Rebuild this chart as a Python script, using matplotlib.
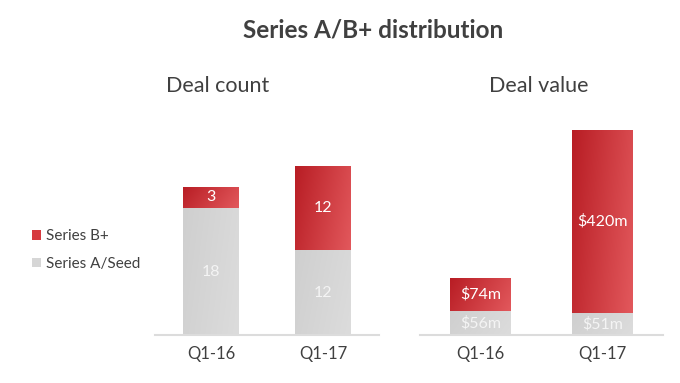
import matplotlib
matplotlib.use("Agg")
import matplotlib.pyplot as plt
import numpy as np
from matplotlib.colors import LinearSegmentedColormap
from matplotlib.patches import Patch

plt.rcParams['font.family'] = ['Lato', 'DejaVu Sans']

categories = ["Q1-16", "Q1-17"]
count_seed = [18, 12]
count_b = [3, 12]
value_seed = [56, 51]
value_b = [74, 420]
value_seed_labels = ["$56m", "$51m"]
value_b_labels = ["$74m", "$420m"]
series_names = ["Series B+", "Series A/Seed"]

RED = "#d63a3f"
GRAY = "#d6d6d6"
TXT = "#404040"

red_cmap = LinearSegmentedColormap.from_list("r", ["#b81d24", "#e2585c"])
gray_cmap = LinearSegmentedColormap.from_list("g", ["#cfcfcf", "#dcdcdc"])

fig = plt.figure(figsize=(6.8, 3.83), dpi=100)


def gradient_bars(ax, bars, cmap):
    grad = np.linspace(0, 1, 64).reshape(1, -1)
    grad = grad + np.linspace(0, 0.6, 64).reshape(-1, 1)[::-1] * 0.5
    for b in bars:
        x0, y0 = b.get_x(), b.get_y()
        w, h = b.get_width(), b.get_height()
        im = ax.imshow(grad, cmap=cmap, extent=(x0, x0 + w, y0, y0 + h),
                       aspect='auto', zorder=2, origin='lower')
        im.set_clip_path(b)


def panel(rect, seed, b, ylim, seed_lbl, b_lbl):
    ax = fig.add_axes(rect)
    x = np.arange(len(categories))
    bs = ax.bar(x, seed, width=0.5, color=GRAY, zorder=1)
    bb = ax.bar(x, b, width=0.5, bottom=seed, color=RED, zorder=1)
    gradient_bars(ax, bb, red_cmap)
    gradient_bars(ax, bs, gray_cmap)
    ax.set_xlim(-0.5, 1.5)
    ax.set_ylim(0, ylim)
    for s in ["top", "right", "left"]:
        ax.spines[s].set_visible(False)
    ax.spines["bottom"].set_color("#dcdcdc")
    ax.spines["bottom"].set_linewidth(1.5)
    ax.set_yticks([])
    ax.set_xticks(x)
    ax.set_xticklabels(categories, fontsize=12, color=TXT)
    ax.tick_params(axis='x', length=0, pad=8)
    for i in x:
        ax.text(i, seed[i] / 2, seed_lbl[i], ha='center', va='center',
                color='#f4f4f4', fontsize=11.5, zorder=3)
        ax.text(i, seed[i] + b[i] / 2, b_lbl[i], ha='center', va='center',
                color='white', fontsize=11.5, zorder=3)
    ax.set_facecolor('none')
    return ax


b_ax = 0.1253
h_ax = 0.561
ax1 = panel([155 / 680, b_ax, 224 / 680, h_ax], count_seed, count_b, 30.45,
            [str(v) for v in count_seed], [str(v) for v in count_b])
ax2 = panel([420 / 680, b_ax, 243 / 680, h_ax], value_seed, value_b, 494,
            value_seed_labels, value_b_labels)

fig.text(218 / 680, 1 - 86 / 383, "Deal count", ha='center', va='center',
         fontsize=15.5, color=TXT)
fig.text(539 / 680, 1 - 86 / 383, "Deal value", ha='center', va='center',
         fontsize=15.5, color=TXT)
fig.text(373 / 680, 1 - 30 / 383, "Series A/B+ distribution", ha='center',
         va='center', fontsize=17.5, fontweight='bold', color=TXT)

handles = [Patch(facecolor=RED), Patch(facecolor=GRAY)]
fig.legend(handles, series_names, loc='center left',
           bbox_to_anchor=(18 / 680, 1 - 250 / 383), frameon=False,
           fontsize=11, labelcolor=TXT, handlelength=0.6, handleheight=0.6,
           handletextpad=0.3, labelspacing=0.9)

fig.savefig("out.png", dpi=100, facecolor='white')
